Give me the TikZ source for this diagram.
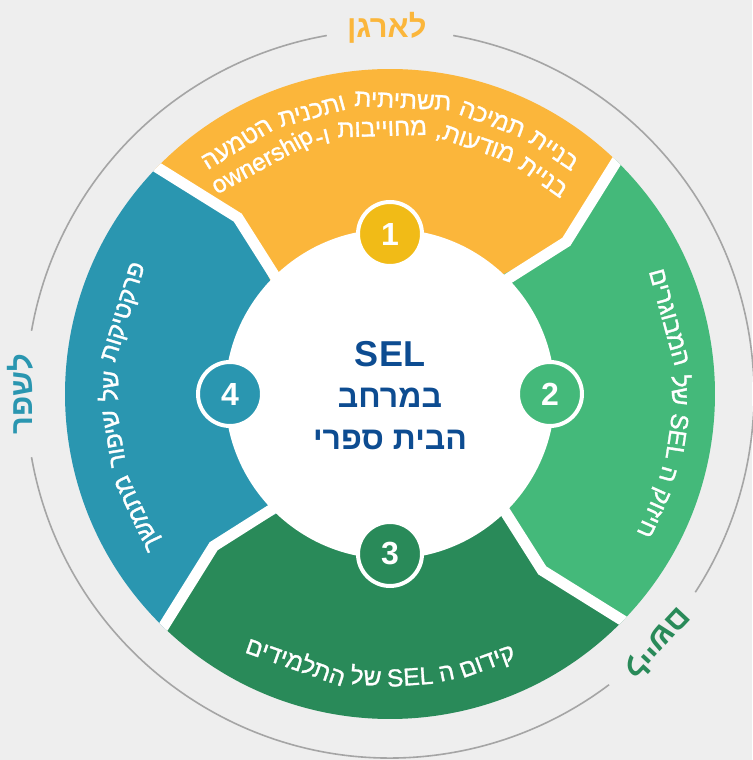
\documentclass[tikz,border=0pt]{standalone}
\usepackage{fontspec}
\setmainfont{Liberation Sans}
\newfontfamily\hebfont[Script=Hebrew]{Liberation Sans}
\newfontfamily\seghebfont[Script=Hebrew, FakeBold=1.2]{Liberation Sans}
\usetikzlibrary{decorations.text}
\TeXXeTstate=1
\definecolor{bg}{HTML}{EEEEEE}
\definecolor{yel}{HTML}{FBB63B}
\definecolor{yelbadge}{HTML}{F1BB17}
\definecolor{grtwo}{HTML}{44B97A}
\definecolor{grthree}{HTML}{298A59}
\definecolor{blu}{HTML}{2A96B0}
\definecolor{navy}{HTML}{0D4C91}
\definecolor{arcgray}{HTML}{A5A5A5}
\newcommand{\segfont}{\seghebfont\fontsize{24.5}{24.5}\selectfont}
\tikzset{
  badge/.style={circle, draw=white, line width=4pt, minimum size=64pt, inner sep=0pt,
    text=white, font=\bfseries\fontsize{32}{32}\selectfont},
  centertxt/.style={text=navy, anchor=base, inner sep=0pt},
  lbl/.style={inner sep=0pt, font=\hebfont\bfseries\fontsize{31}{31}\selectfont},
  ringarc/.style={draw=arcgray, line width=1.6pt},
  gapline/.style={draw=white, line width=11pt, line join=miter},
  segtext/.style={decorate, decoration={text along path, text align=center, text color=white}}
}
\begin{document}
\begin{tikzpicture}[x=1pt,y=1pt]
\useasboundingbox (-390,-366) rectangle (362,394);
\fill[bg] (-390,-366) rectangle (362,394);

% outer gray arcs
\draw[ringarc] (100:364) arc[start angle=100, end angle=170, radius=364pt];
\draw[ringarc] (190:364) arc[start angle=190, end angle=307, radius=364pt];
\draw[ringarc] (327:364) arc[start angle=327, end angle=440, radius=364pt];

% segments
\foreach \s/\c in {46.5/yel, 136.5/blu, 226.5/grthree, 316.5/grtwo}{
  \pgfmathsetmacro{\e}{\s+90}
  \fill[\c] (\s:165) -- ({\s-5.7}:233) -- (\s:325)
     arc[start angle=\s, end angle=\e, radius=325pt]
     -- ({\e-5.7}:233) -- (\e:165) -- (0,0) -- cycle;
}
% white gaps
\begin{scope}
\clip (0,0) circle[radius=325pt];
\foreach \b in {46.5,136.5,226.5,316.5}{
  \draw[gapline] (\b:140) -- ({\b-5.7}:233) -- (\b:345);
}
\end{scope}
% inner disk
\fill[white] (0,0) circle[radius=165pt];

% segment texts (words placed along the arc, each word set right to left)
\path[segtext, decoration={text={|\segfont|{\beginR הטמעה\endR} {\beginR ותכנית\endR} {\beginR תשתיתית\endR} {\beginR תמיכה\endR} {\beginR בניית\endR}}}]
  (150:286) arc[start angle=150, end angle=30, radius=286pt];
\path[segtext, decoration={text={|\segfont|{ownership}{-}{\beginR ו\endR} {\beginR מחוייבות\endR} {\beginR מודעות,\endR} {\beginR בניית\endR}}}]
  (150:258) arc[start angle=150, end angle=30, radius=258pt];
\path[segtext, decoration={text={|\segfont|{\beginR המבוגרים\endR} {\beginR של\endR} {SEL} {\beginR ה\endR} {\beginR חיזוק\endR}}}]
  (38:282) arc[start angle=38, end angle=-42, radius=282pt];
\path[segtext, decoration={text={|\segfont|{\beginR התלמידים\endR} {\beginR של\endR} {SEL} {\beginR ה\endR} {\beginR קידום\endR}}}]
  (226:292) arc[start angle=226, end angle=310, radius=292pt];
\path[segtext, decoration={text={|\segfont|{\beginR מתמשך\endR} {\beginR שיפור\endR} {\beginR של\endR} {\beginR פרקטיקות\endR}}}]
  (225:272) arc[start angle=225, end angle=141, radius=272pt];

% badges
\node[badge, fill=yelbadge] (b1) at (90:160) {1};
\node[badge, fill=grtwo] (b2) at (0:160) {2};
\node[badge, fill=grthree] (b3) at (270:160) {3};
\node[badge, fill=blu] (b4) at (180:160) {4};

% center text
\node[centertxt, font=\bfseries\fontsize{36}{36}\selectfont] (sel) at (0,27) {SEL};
\node[centertxt, font=\hebfont\bfseries\fontsize{32}{32}\selectfont] (t2) at (0,-14) {\beginR במרחב\endR};
\node[centertxt, font=\hebfont\bfseries\fontsize{32}{32}\selectfont] (t3) at (0,-56) {\beginR הבית ספרי\endR};

% outer labels
\node[lbl, text=yel] (l1) at (90.5:366) {\beginR לארגן\endR};
\node[lbl, text=blu, rotate=90] (l2) at (180:370) {\beginR לשפר\endR};
\node[lbl, text=grthree, rotate=-133] (l3) at (-43:367) {\beginR ליישם\endR};
\end{tikzpicture}
\end{document}
